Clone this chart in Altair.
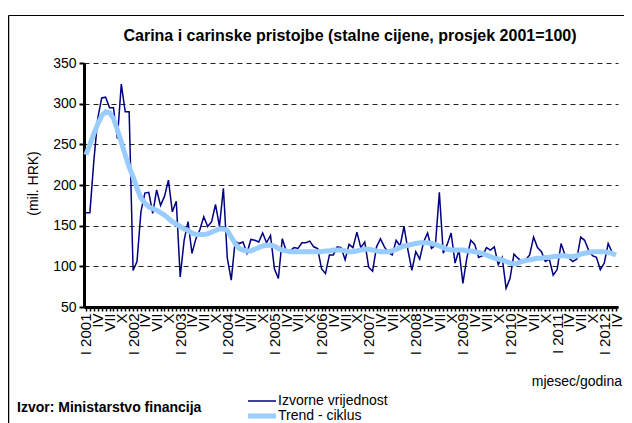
import json
import altair as alt
import pandas as pd

# ---- data (monthly, I 2001 .. IV 2012) ----
raw = [166, 166, 229, 282, 307, 308, 295, 295, 257, 324, 290, 290,
       95, 106, 167, 190, 191, 165, 194, 175, 186, 206, 167, 180,
       87, 132, 155, 116, 134, 145, 161, 149, 155, 176, 149, 196,
       110, 83, 131, 128, 130, 116, 133, 132, 130, 141, 129, 138,
       97, 85, 134, 119, 119, 123, 122, 129, 129, 131, 124, 122,
       97, 91, 114, 114, 124, 123, 108, 127, 123, 142, 123, 130,
       99, 94, 124, 134, 124, 117, 114, 132, 125, 149, 120, 95,
       118, 109, 130, 141, 122, 126, 191, 116, 127, 141, 104, 120,
       79, 110, 132, 127, 111, 113, 123, 120, 124, 102, 111, 73,
       85, 115, 110, 106, 108, 114, 136, 123, 118, 106, 109, 89,
       96, 128, 114, 110, 106, 109, 136, 132, 120, 113, 111, 96,
       104, 128, 117, 115]

trend = [237, 250, 263, 275, 285, 290, 289, 282, 268, 253, 237, 222,
         210, 196, 184, 178, 173, 171, 169, 166, 163, 159, 155, 152,
         149, 146, 144, 141, 139, 139, 139, 140, 142, 144, 146, 146,
         144, 136, 128, 122, 120, 119, 119, 121, 123, 125, 126, 126,
         125, 122, 120, 119, 118, 118, 118, 118, 118, 118, 118, 118,
         118, 119, 119, 120, 120, 120, 119, 118, 118, 119, 120, 121,
         121, 120, 119, 118, 118, 118, 119, 121, 123, 125, 126, 127,
         128, 129, 129, 129, 128, 127, 125, 123, 121, 120, 120, 120,
         120, 119, 119, 118, 117, 116, 114, 112, 110, 109, 108, 106,
         104, 103, 104, 106, 107, 108, 109, 110, 110, 111, 111, 112,
         112, 113, 113, 112, 112, 113, 115, 116, 117, 118, 118, 118,
         118, 117, 116, 114]

years = list(range(2001, 2013))
quarter_months = ["I", "IV", "VII", "X"]
y_ticks = [50, 100, 150, 200, 250, 300, 350]

n = len(raw)
idx = list(range(n))
tick_labels = []
for i in idx:
    m = i % 12
    if m == 0:
        tick_labels.append("I " + str(years[i // 12]))
    elif m % 3 == 0:
        tick_labels.append(quarter_months[m // 3])
    else:
        tick_labels.append("")

df = pd.DataFrame({"idx": idx, "raw": raw, "trend": trend})
one = pd.DataFrame({"a": [0]})

FONT = "Liberation Sans"
W, H = 534, 244
OX, OY = 84, 63  # plot origin on the page

xaxis = alt.Axis(
    labelExpr=json.dumps(tick_labels) + "[datum.value]",
    labelAngle=-90,
    labelOverlap=False,
    labelFlush=False,
    labelFontSize=15,
    labelColor="black",
    labelPadding=2,
    tickSize=4,
    tickWidth=1.5,
    tickColor="black",
    domainColor="black",
    domainWidth=3,
    grid=False,
    title=None,
)
xscale = alt.Scale(type="point", padding=0.5)
xenc = alt.X("idx:O", scale=xscale, axis=xaxis, sort=idx)

yaxis = alt.Axis(
    values=y_ticks,
    grid=True,
    gridDash=[5, 4],
    gridColor="#222222",
    gridWidth=1,
    domainColor="black",
    domainWidth=3,
    tickColor="black",
    tickSize=5,
    tickWidth=2,
    labelFontSize=14,
    labelColor="black",
    labelPadding=3,
    title="(mil. HRK)",
    titleFontSize=14,
    titleFontWeight="normal",
    titleColor="black",
    titleX=33 - OX,
    titleY=183 - OY,
    titleBaseline="middle",
    titleAngle=270,
)
yscale = alt.Scale(domain=[50, 350], nice=False, zero=False)

raw_line = alt.Chart(df).mark_line(color="#000080", strokeWidth=1.5).encode(
    x=xenc, y=alt.Y("raw:Q", scale=yscale, axis=yaxis)
)
trend_line = alt.Chart(df).mark_line(color="#99CCFF", strokeWidth=5).encode(
    x=xenc, y=alt.Y("trend:Q", scale=yscale, axis=yaxis)
)


def txt(s, x, y, size=14, weight="normal", align="left"):
    return alt.Chart(one).mark_text(
        text=s, fontSize=size, fontWeight=weight, align=align, baseline="middle",
        color="black", font=FONT,
    ).encode(x=alt.value(x - OX), y=alt.value(y - OY))


def rule(x1, x2, y1, y2, color, width):
    return alt.Chart(one).mark_rule(color=color, strokeWidth=width).encode(
        x=alt.value(x1 - OX), x2=alt.value(x2 - OX), y=alt.value(y1 - OY), y2=alt.value(y2 - OY)
    )


chart = alt.layer(
    rule(8.5, 640, 15.5, 15.5, "black", 1),
    rule(8.5, 8.5, 15.5, 440, "black", 1.5),
    raw_line,
    trend_line,
    txt("Carina i carinske pristojbe (stalne cijene, prosjek 2001=100)", 350, 36, 16, "bold", "center"),
    txt("mjesec/godina", 622, 382, 14, "normal", "right"),
    rule(248, 276, 401, 401, "#000080", 1.5),
    txt("Izvorne vrijednost", 278, 401),
    rule(248, 276, 416, 416, "#99CCFF", 5),
    txt("Trend - ciklus", 278, 416),
    txt("Izvor: Ministarstvo financija", 17, 408, 14, "bold", "left"),
).properties(
    width=W,
    height=H,
    autosize=alt.AutoSizeParams(type="none"),
    padding={"left": OX - 8, "top": OY - 8, "right": 616 - (OX - 8) - W, "bottom": 116},
).configure(font=FONT).configure_view(stroke=None)

chart.save("out.html", embed_options={"renderer": "svg", "actions": False})
